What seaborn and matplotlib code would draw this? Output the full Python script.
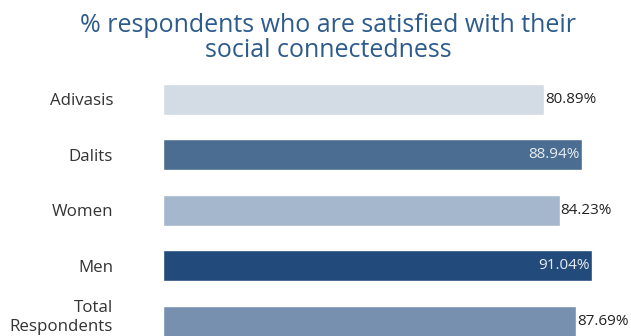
import matplotlib
matplotlib.use("Agg")
import matplotlib.pyplot as plt
import matplotlib.transforms as mtransforms
import seaborn as sns
import pandas as pd

categories = ["Adivasis", "Dalits", "Women", "Men", "Total\nRespondents"]
values = [80.89, 88.94, 84.23, 91.04, 87.69]
colors = ["#D3DBE5", "#4B6D92", "#A5B7CC", "#224A7A", "#7890AF"]
inside = [False, True, False, True, False]
title = "% respondents who are satisfied with their\nsocial connectedness"

sns.set_theme(style="white")
plt.rcParams["font.family"] = ["Open Sans", "DejaVu Sans"]

df = pd.DataFrame({"category": categories, "value": values})

fig = plt.figure(figsize=(6.31, 3.36), dpi=100)
ax = fig.add_axes([163 / 631, 0.0, 1 - 163 / 631, 1 - 66 / 336])
sns.barplot(data=df, y="category", x="value", hue="category",
            palette=colors, legend=False, width=0.56, saturation=1,
            ax=ax, orient="h")

ax.set_xlim(0, (631 - 163) / 4.71)
ax.set_ylim(4.27, -0.6)
ax.set_xlabel("")
ax.set_ylabel("")
ax.set_xticks([])
for s in ax.spines.values():
    s.set_visible(False)
ax.tick_params(axis="y", length=0, pad=36, labelsize=12.2, labelcolor="#333333")
labels = ax.get_yticklabels()
for t in labels:
    t.set_linespacing(1.25)
ax.yaxis.get_major_ticks()[-1].label1.set_transform(
    ax.get_yaxis_text1_transform(36)[0]
    + mtransforms.ScaledTranslation(0, 5 / 72, fig.dpi_scale_trans))

for i, (v, ins) in enumerate(zip(values, inside)):
    if ins:
        ax.text(v - 0.5, i, f"{v:.2f}%", ha="right", va="center",
                fontsize=11, color="#E8EDF4")
    else:
        ax.text(v + 0.2, i, f"{v:.2f}%", ha="left", va="center",
                fontsize=11, color="#222222")

fig.text(0.52, 1 - 38 / 336, title, ha="center", va="center",
         fontsize=18, color="#2D5B8C", linespacing=1.05)

fig.savefig("out.png", dpi=100)
